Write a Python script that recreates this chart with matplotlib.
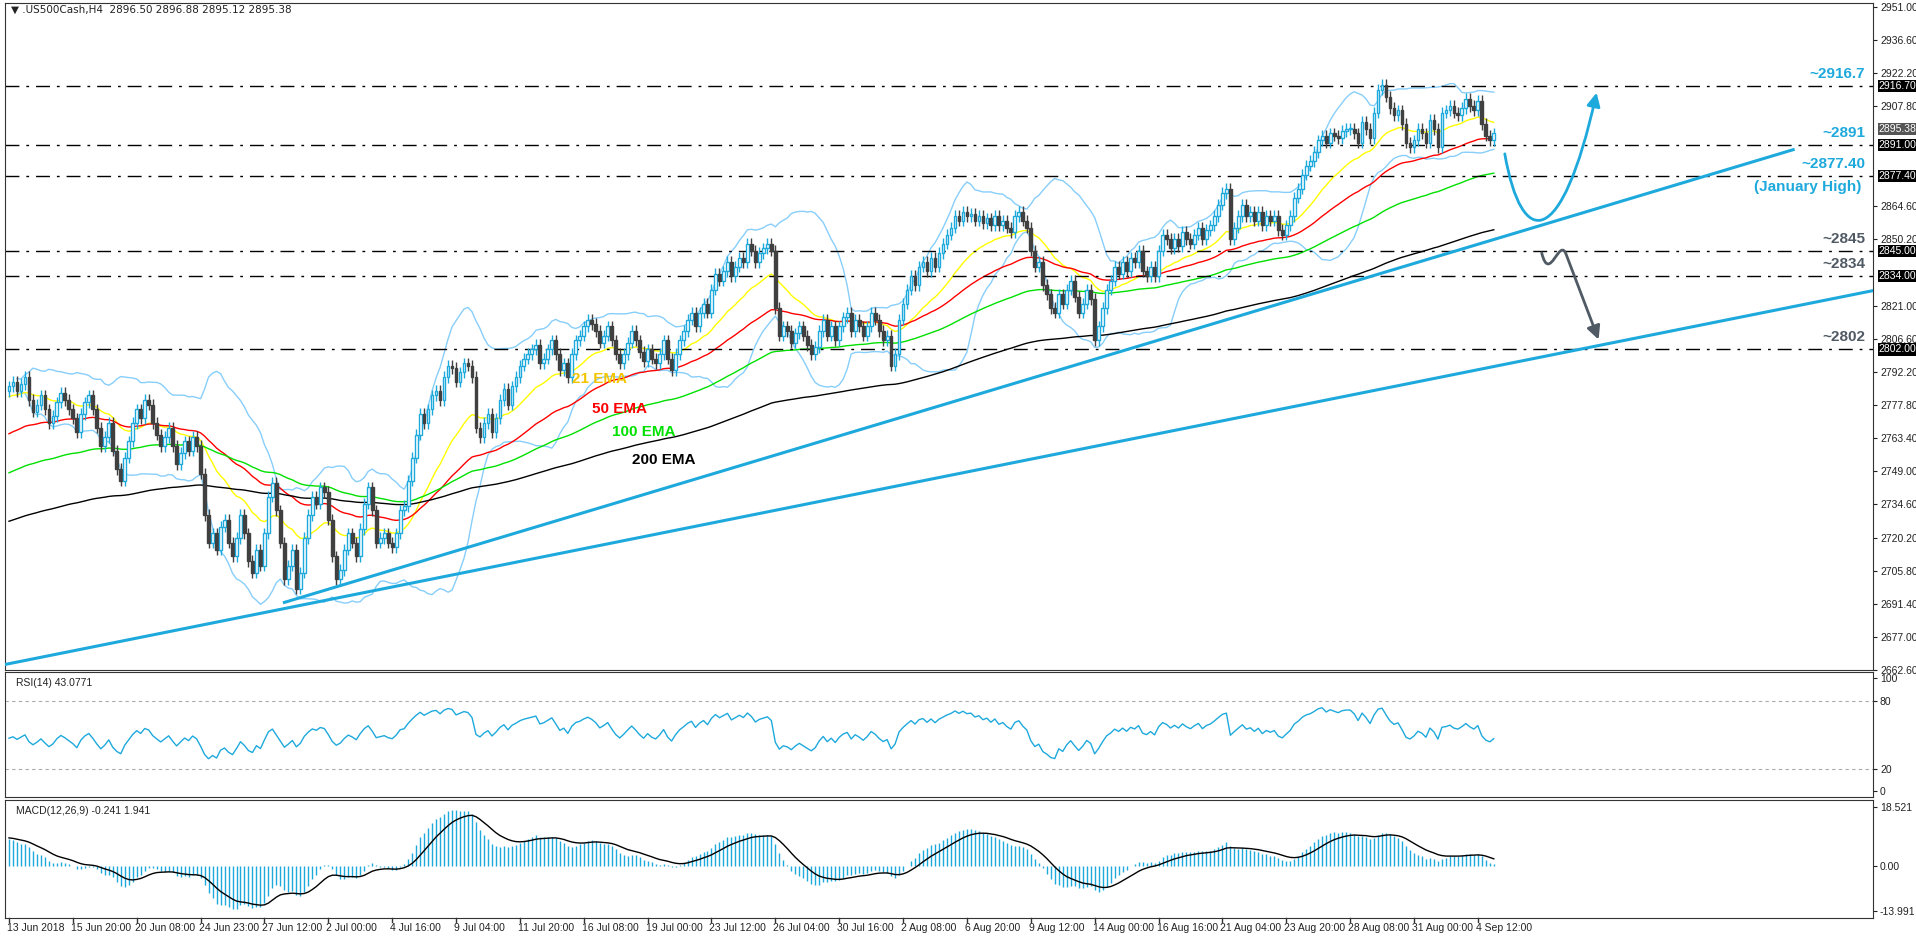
import numpy as np
import pandas as pd
import matplotlib
matplotlib.use("Agg")
import matplotlib.pyplot as plt
from matplotlib.patches import FancyArrowPatch
from matplotlib.path import Path

plt.rcParams['font.family'] = ['Liberation Sans', 'DejaVu Sans']

closes = [
 2786,2788,2784,2787,2790,2780,2775,2778,2782,2776,2770,2773,2779,2783,2780,2776,
 2772,2766,2774,2779,2782,2776,2768,2760,2764,2770,2758,2750,2745,2755,2762,2770,
 2776,2772,2780,2778,2770,2765,2760,2764,2768,2760,2752,2757,2762,2758,2764,2760,
 2748,2730,2718,2722,2715,2725,2728,2718,2712,2720,2730,2722,2710,2705,2715,2708,
 2722,2738,2744,2732,2718,2702,2708,2715,2698,2705,2720,2730,2738,2735,2742,2740,
 2728,2712,2702,2706,2715,2722,2718,2712,2724,2735,2742,2732,2718,2720,2722,2718,
 2716,2722,2732,2734,2745,2755,2765,2774,2770,2776,2782,2784,2780,2790,2795,2794,
 2788,2792,2796,2795,2790,2768,2764,2770,2774,2766,2772,2780,2785,2778,2786,2790,
 2795,2798,2800,2802,2804,2796,2798,2802,2806,2800,2793,2796,2790,2800,2806,2808,
 2812,2815,2813,2810,2805,2808,2812,2806,2800,2796,2800,2805,2810,2806,2801,2797,
 2802,2798,2796,2800,2806,2798,2793,2800,2806,2810,2815,2818,2812,2818,2822,2818,
 2828,2835,2832,2836,2840,2834,2838,2842,2840,2848,2845,2840,2844,2846,2848,2845,
 2820,2808,2812,2810,2805,2809,2812,2808,2804,2800,2803,2810,2815,2808,2812,2806,
 2812,2816,2818,2810,2815,2812,2808,2812,2818,2815,2810,2806,2808,2795,2800,2815,
 2822,2828,2834,2830,2838,2840,2836,2842,2838,2844,2848,2852,2855,2860,2858,2862,
 2860,2861,2858,2860,2857,2859,2856,2860,2856,2858,2855,2853,2860,2862,2858,2855,
 2845,2838,2840,2830,2826,2820,2818,2826,2822,2828,2832,2825,2818,2822,2828,2824,
 2806,2812,2820,2828,2832,2838,2835,2840,2836,2842,2840,2845,2836,2834,2838,2834,
 2845,2852,2850,2846,2850,2847,2853,2850,2848,2852,2855,2850,2854,2856,2860,2865,
 2870,2872,2850,2855,2860,2865,2860,2862,2858,2862,2856,2860,2858,2860,2854,2852,
 2856,2860,2868,2872,2878,2882,2884,2888,2893,2895,2892,2896,2895,2894,2897,2898,
 2898,2896,2892,2901,2898,2894,2905,2915,2917,2912,2907,2904,2906,2900,2892,2890,
 2893,2898,2896,2892,2902,2898,2890,2905,2906,2908,2905,2904,2907,2911,2908,2906,
 2910,2900,2895,2893,2896]
first_open = 2784
wick = 2.5

ema_seeds = {21: 2781, 50: 2764.5, 100: 2747.6, 200: 2726.7}
ema_colors = {21: '#ffff00', 50: '#ff0000', 100: '#00e000', 200: '#000000'}
ema_label_pos = {21: (141, 2789), 50: (146, 2776), 100: (151, 2766), 200: (156, 2754)}
ema_label_col = {21: '#f5c400', 50: '#ff0000', 100: '#00e000', 200: '#000000'}
macd_seed12, macd_seed26 = 2784.0, 2775.0
macd_signal_seed = 9.0
rsi_seed_gain, rsi_seed_loss = 3.0, 3.4

xlabels = ["13 Jun 2018", "15 Jun 20:00", "20 Jun 08:00", "24 Jun 23:00", "27 Jun 12:00",
           "2 Jul 00:00", "4 Jul 16:00", "9 Jul 04:00", "11 Jul 20:00", "16 Jul 08:00",
           "19 Jul 00:00", "23 Jul 12:00", "26 Jul 04:00", "30 Jul 16:00", "2 Aug 08:00",
           "6 Aug 20:00", "9 Aug 12:00", "14 Aug 00:00", "16 Aug 16:00", "21 Aug 04:00",
           "23 Aug 20:00", "28 Aug 08:00", "31 Aug 00:00", "4 Sep 12:00"]
levels = [2916.7, 2891.0, 2877.4, 2845.0, 2834.0, 2802.0]
level_texts = ["~2916.7", "~2891", "~2877.40", "~2845", "~2834", "~2802"]
level_colors = ['#1ea9dc', '#1ea9dc', '#1ea9dc', '#505a64', '#505a64', '#505a64']
price_ticks = [2951.0, 2936.6, 2922.2, 2907.8, 2864.6, 2850.2, 2821.0, 2806.6, 2792.2,
               2777.8, 2763.4, 2749.0, 2734.6, 2720.2, 2705.8, 2691.4, 2677.0, 2662.6]
last_price = 2895.38
trend1 = [(-1, 2665.0), (467, 2827.6)]
trend2 = [(69, 2692.0), (447, 2888.9)]
up_path = [(374.75, 2887.1), (379, 2845), (389, 2845), (397.75, 2913.7)]
down_path = [(384, 2844), (386, 2830), (388.5, 2852), (390.2, 2843), (398.25, 2806.3)]

c = np.array(closes, float)
n = len(c)
o = np.concatenate([[first_open], c[:-1]])
h = np.maximum(o, c) + wick
l = np.minimum(o, c) - wick
x = np.arange(n)

def ema(vals, period, seed):
    a = 2.0 / (period + 1)
    out = []
    e = seed
    for v in vals:
        e = e + a * (v - e)
        out.append(e)
    return np.array(out)

CY = '#1ea9dc'
FS = 7.5
fig = plt.figure(figsize=(19.16, 9.36), dpi=100)
W, H = 1916, 936
L, R = 5 / W, (1873 - 5) / W
axm = fig.add_axes([L, 1 - 670 / H, R, 667 / H])
axr = fig.add_axes([L, 1 - 797 / H, R, 125 / H])
axd = fig.add_axes([L, 1 - 918 / H, R, 118 / H])
for a in (axm, axr, axd):
    a.set_xlim(-1, 467)
    a.yaxis.tick_right()
    a.tick_params(axis='y', labelsize=FS, length=3, pad=2, colors='#222')
    a.tick_params(axis='x', length=0, labelbottom=False)
    for s in a.spines.values():
        s.set_color('#333')

s = pd.Series(c)
mid = s.rolling(20, min_periods=3).mean()
sd = s.rolling(20, min_periods=3).std(ddof=0)
axm.plot(x, mid + 2 * sd, color='#87cefa', lw=1)
axm.plot(x, mid - 2 * sd, color='#87cefa', lw=1)
for p, sv in ema_seeds.items():
    axm.plot(x, ema(c, p, sv), color=ema_colors[p], lw=1)
    axm.text(*ema_label_pos[p], f"{p} EMA", color=ema_label_col[p], fontsize=11, fontweight='bold',
             va='center', zorder=7)
for i in range(n):
    up = c[i] >= o[i]
    col = CY if up else '#404040'
    axm.vlines(x[i], l[i], h[i], color=col, lw=1, zorder=3)
    b0, b1 = min(o[i], c[i]), max(o[i], c[i])
    axm.add_patch(plt.Rectangle((x[i] - 0.35, b0), 0.7, max(b1 - b0, 0.3),
                                facecolor='white' if up else '#404040', edgecolor=col, lw=1, zorder=4))
for lv, t, col in zip(levels, level_texts, level_colors):
    axm.axhline(lv, color='black', lw=1, ls=(0, (10, 5, 2, 5)), zorder=2)
    axm.text(465, lv + 2.2, t, color=col, fontsize=11, fontweight='bold', ha='right', va='bottom')
    axm.text(1.003, lv, f"{lv:.2f}", transform=axm.get_yaxis_transform(), fontsize=FS, color='white',
             va='center', ha='left', bbox=dict(boxstyle='square,pad=0.1', fc='black', ec='none'), zorder=6)
axm.text(464, 2877.4 - 1.5, "(January High)", color=CY, fontsize=11, fontweight='bold', ha='right', va='top')
axm.text(1.003, last_price + 2.7, f"{last_price:.2f}", transform=axm.get_yaxis_transform(), fontsize=FS,
         color='white', va='center', ha='left', bbox=dict(boxstyle='square,pad=0.1', fc='#555', ec='none'), zorder=6)
axm.set_ylim(2662.6, 2952.7)
axm.set_yticks(price_ticks)
axm.set_yticklabels([f"{v:.2f}" for v in price_ticks])
for tl in (trend1, trend2):
    axm.plot([tl[0][0], tl[1][0]], [tl[0][1], tl[1][1]], color=CY, lw=2.2, zorder=5)
up = FancyArrowPatch(path=Path(up_path, [Path.MOVETO, Path.CURVE4, Path.CURVE4, Path.CURVE4]),
                     arrowstyle='-|>,head_length=8,head_width=4', color=CY, lw=2, zorder=6)
axm.add_patch(up)
dn = FancyArrowPatch(path=Path(down_path, [Path.MOVETO, Path.CURVE4, Path.CURVE4, Path.CURVE4, Path.LINETO]),
                     arrowstyle='-|>,head_length=8,head_width=4', color='#505a64', lw=2, zorder=6)
axm.add_patch(dn)
axm.text(0.003, 0.997, "\u25bc .US500Cash,H4  2896.50 2896.88 2895.12 2895.38", transform=axm.transAxes,
         fontsize=FS, va='top', ha='left', color='#222', family=['DejaVu Sans'])

# RSI
d = np.diff(c)
g = np.where(d > 0, d, 0.0); ls_ = np.where(d < 0, -d, 0.0)
ag, al = rsi_seed_gain, rsi_seed_loss
rsi = [100 - 100 / (1 + ag / al)]
for i in range(len(d)):
    ag = (ag * 13 + g[i]) / 14
    al = (al * 13 + ls_[i]) / 14
    rsi.append(100 - 100 / (1 + ag / max(al, 1e-9)))
rsi = np.array(rsi)
axr.plot(x, rsi, color=CY, lw=1)
for lv in (80, 20):
    axr.axhline(lv, color='#aaaaaa', lw=0.8, ls=(0, (3, 3)))
axr.set_ylim(-5.1, 105.4)
axr.set_yticks([100, 80, 20, 0])
axr.text(0.006, 0.95, "RSI(14) 43.0771", transform=axr.transAxes, fontsize=FS, va='top', color='#222')

# MACD
macd = ema(c, 12, macd_seed12) - ema(c, 26, macd_seed26)
sig = ema(macd, 9, macd_signal_seed)
axd.vlines(x, 0, macd, color=CY, lw=1)
axd.plot(x, sig, color='black', lw=1)
axd.set_ylim(-16.05, 20.7)
axd.set_yticks([18.521, 0.0, -13.991])
axd.set_yticklabels(["18.521", "0.00", "-13.991"])
axd.text(0.006, 0.95, "MACD(12,26,9) -0.241 1.941", transform=axd.transAxes, fontsize=FS, va='top', color='#222')
for k, lab in enumerate(xlabels):
    xi = 16 * k
    axd.plot([xi, xi], [-16.05, -17.2], color='#333', lw=1, clip_on=False)
    axd.text(xi - 0.5, -17.5, lab, fontsize=FS, ha='left', va='top', color='#222')

fig.savefig("out.png", dpi=100)
